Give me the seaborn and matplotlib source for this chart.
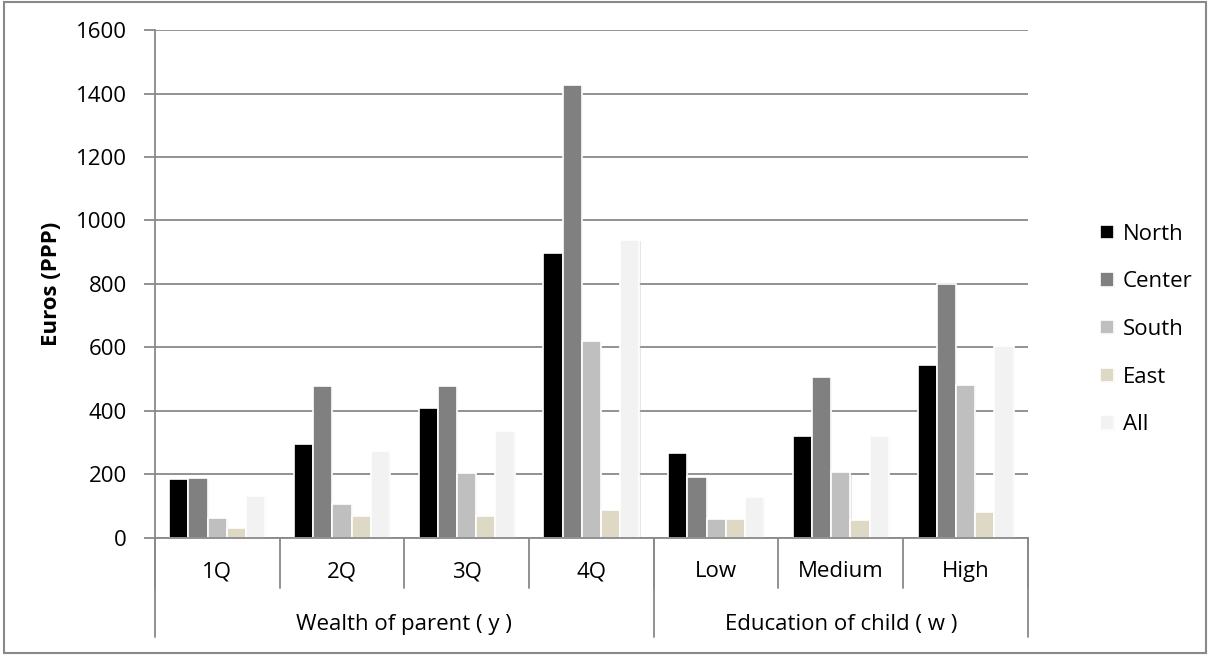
import pandas as pd
import numpy as np
import matplotlib.pyplot as plt
import seaborn as sns
from matplotlib.patches import Rectangle
import matplotlib.patheffects as pe

# 数据
categories = ["1Q", "2Q", "3Q", "4Q", "Low", "Medium", "High"]
north = [186, 297, 410, 898, 266, 320, 544]
center = [187, 477, 477, 1427, 190, 508, 800]
south = [63, 105, 204, 621, 59, 208, 481]
east = [31, 69, 68, 89, 59, 55, 80]
all_regions = [132, 274, 338, 939, 128, 321, 605]
regions = ["North", "Center", "South", "East", "All"]
groups = ["Wealth of parent ( y )", "Education of child ( w )"]
group_sizes = [4, 3]

colors = ["#000000", "#808080", "#BFBFBF", "#DDD9C4", "#F2F2F2"]
grid_c = "#898989"

df = pd.DataFrame({"cat": categories, "North": north, "Center": center,
                   "South": south, "East": east, "All": all_regions})
df = df.melt(id_vars="cat", var_name="region", value_name="value")

sns.set_style("white")
plt.rcParams['font.family'] = ['Open Sans', 'DejaVu Sans']
plt.rcParams['text.color'] = 'black'
plt.rcParams['axes.labelcolor'] = 'black'
plt.rcParams['xtick.color'] = 'black'
plt.rcParams['ytick.color'] = 'black'

fs = 16

fig = plt.figure(figsize=(12.1, 6.55), dpi=100)
ax = fig.add_axes([0.128, 0.179, 0.7215, 0.775])

sns.barplot(data=df, x="cat", y="value", hue="region", hue_order=regions,
            order=categories, palette=colors, saturation=1, width=0.77,
            edgecolor="white", linewidth=1.2, errorbar=None, ax=ax)

# 轻微阴影
for p in ax.patches:
    p.set_path_effects([pe.SimplePatchShadow(offset=(0.8, -0.8), shadow_rgbFace="#b0b0b0", alpha=0.3),
                        pe.Normal()])

ax.set_ylim(0, 1600)
ax.set_yticks(range(0, 1601, 200))
ax.set_xlim(-0.5, len(categories) - 0.5)
ax.yaxis.grid(True, color=grid_c, lw=1.3)
ax.set_axisbelow(True)

for s in ["top", "right"]:
    ax.spines[s].set_visible(False)
for s in ["left", "bottom"]:
    ax.spines[s].set_color(grid_c)
    ax.spines[s].set_linewidth(1.3)

ax.tick_params(axis='x', length=0, pad=17, labelsize=fs)
ax.tick_params(axis='y', length=8, width=1.3, color=grid_c, labelcolor='black',
               pad=12, labelsize=fs, left=True)
ax.set_xlabel("")
ax.set_ylabel("Euros (PPP)", fontsize=fs, fontweight="bold")
ax.yaxis.set_label_coords(-0.106, 0.5)

# 多级分类轴
trans = ax.get_xaxis_transform()
for b in np.arange(-0.5, len(categories), 1.0):
    ax.plot([b, b], [0, -0.098], transform=trans, clip_on=False, color=grid_c, lw=1.3)
start = -0.5
ax.plot([start, start], [0, -0.195], transform=trans, clip_on=False, color=grid_c, lw=1.3)
for g, n in zip(groups, group_sizes):
    end = start + n
    ax.plot([end, end], [0, -0.195], transform=trans, clip_on=False, color=grid_c, lw=1.3)
    ax.text((start + end) / 2, -0.171, g, transform=trans, ha="center", va="center", fontsize=fs)
    start = end

leg = ax.legend(loc="center left", bbox_to_anchor=(0.9, 0.497), bbox_transform=fig.transFigure,
                frameon=False, fontsize=fs, handlelength=0.62, handleheight=0.62,
                handletextpad=0.4, labelspacing=1.2, borderpad=0)

fig.add_artist(Rectangle((0.003, 0.003), 0.994, 0.994, transform=fig.transFigure,
                         fill=False, ec=grid_c, lw=1.5))

plt.savefig("out.png", dpi=100)
